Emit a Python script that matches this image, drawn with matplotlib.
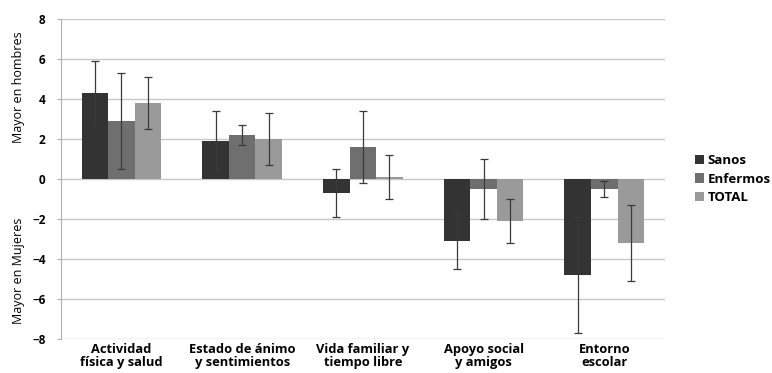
import matplotlib.pyplot as plt
import numpy as np

categories = ["Actividad\nfísica y salud", "Estado de ánimo\ny sentimientos",
              "Vida familiar y\ntiempo libre", "Apoyo social\ny amigos", "Entorno\nescolar"]
series = ["Sanos", "Enfermos", "TOTAL"]
values = [
    [4.3, 1.9, -0.7, -3.1, -4.8],
    [2.9, 2.2, 1.6, -0.5, -0.5],
    [3.8, 2.0, 0.1, -2.1, -3.2],
]
errors = [
    [1.6, 1.5, 1.2, 1.4, 2.9],
    [2.4, 0.5, 1.8, 1.5, 0.4],
    [1.3, 1.3, 1.1, 1.1, 1.9],
]
colors = ["#333333", "#6f6f6f", "#9a9a9a"]

plt.rcParams['font.family'] = ['Open Sans', 'DejaVu Sans']

fig = plt.figure(figsize=(7.72, 3.73), dpi=100)
ax = fig.add_axes([0.079, 0.091, 0.782, 0.858])

x = np.arange(len(categories))
w = 0.22
for i, name in enumerate(series):
    ax.bar(x + (i - 1) * w, values[i], w, color=colors[i], label=name, zorder=2,
           yerr=errors[i], error_kw=dict(ecolor="#3a3a3a", elinewidth=0.9,
                                         capsize=3, capthick=0.9, zorder=3))

ax.set_xlim(-0.5, len(categories) - 0.5)
ax.set_ylim(-8, 8)
ax.set_yticks(range(-8, 9, 2))
ax.yaxis.grid(True, color="#c8c8c8", linewidth=1, zorder=0)
ax.set_axisbelow(True)
for s in ["top", "right", "bottom"]:
    ax.spines[s].set_visible(False)
ax.spines["left"].set_color("#b0b0b0")
ax.tick_params(axis="y", length=3, color="#b0b0b0", labelsize=8.5, pad=8)
ax.tick_params(axis="x", length=0, labelsize=9.3, pad=3)
for lbl in ax.get_yticklabels():
    lbl.set_fontweight("bold")
ax.set_xticks(x)
ax.set_xticklabels(categories, fontweight="bold", linespacing=1.0)

fig.text(0.024, 0.765, "Mayor en hombres", rotation=90, ha="center", va="center", fontsize=9)
fig.text(0.024, 0.275, "Mayor en Mujeres", rotation=90, ha="center", va="center", fontsize=9)

leg = ax.legend(loc="center left", bbox_to_anchor=(1.03, 0.5), frameon=False,
                prop=dict(weight="bold", size=9.5), handlelength=0.7, handleheight=0.7,
                handletextpad=0.3, labelspacing=0.4)

fig.savefig("out.png", dpi=100)
